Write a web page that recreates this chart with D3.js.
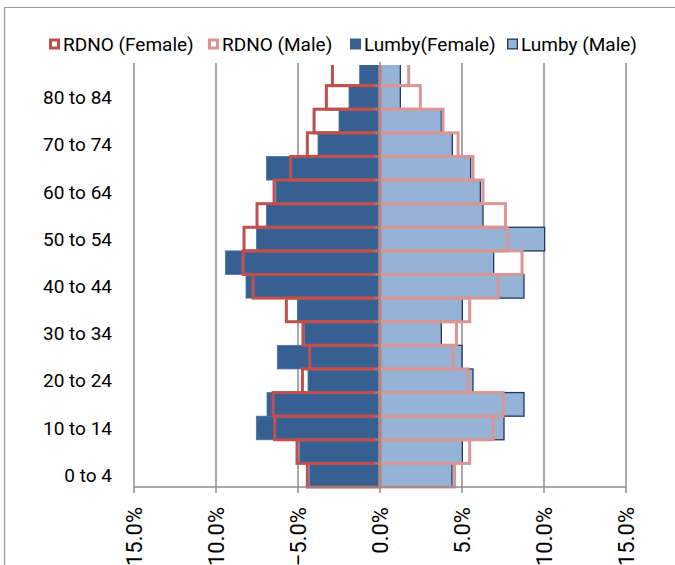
<!DOCTYPE html>
<html>
<head>
<meta charset="utf-8">
<script src="https://cdn.jsdelivr.net/npm/d3@7"></script>
<style>
  body { margin: 0; background: #fff; }
  svg text { font-family: Roboto, "Liberation Sans", sans-serif; fill: #000; }
</style>
</head>
<body>
<svg id="chart"></svg>
<script>
const width = 675;
const height = 565;

// Age groups, bottom to top
const ageGroups = ["0 to 4", "5 to 9", "10 to 14", "15 to 19", "20 to 24", "25 to 29",
    "30 to 34", "35 to 39", "40 to 44", "45 to 49", "50 to 54", "55 to 59",
    "60 to 64", "65 to 69", "70 to 74", "75 to 79", "80 to 84", "85+"];

// Percent of population
const lumbyFemale = [4.29, 4.90, 7.54, 6.89, 4.39, 6.26, 4.60, 5.04, 8.17, 9.43, 7.54, 6.93, 6.35, 6.93, 3.78, 2.50, 1.89, 1.24];
const lumbyMale   = [4.39, 5.02, 7.56, 8.78, 5.67, 5.00, 3.74, 5.02, 8.78, 6.93, 10.04, 6.28, 6.12, 5.53, 4.41, 3.74, 1.24, 1.24];
const rdnoFemale  = [4.43, 5.06, 6.42, 6.52, 4.73, 4.29, 4.70, 5.71, 7.74, 8.35, 8.29, 7.50, 6.46, 5.45, 4.43, 4.02, 3.27, 2.90];
const rdnoMale    = [4.55, 5.47, 6.89, 7.50, 5.37, 4.45, 4.66, 5.47, 7.20, 8.66, 7.77, 7.65, 6.28, 5.67, 4.76, 3.84, 2.46, 1.75];

const xTicks = [-15, -10, -5, 0, 5, 10, 15];

const legendItems = [
    { name: "RDNO (Female)", fill: "#fff", stroke: "#C0504D", sw: 3 },
    { name: "RDNO (Male)", fill: "#fff", stroke: "#D99694", sw: 3 },
    { name: "Lumby(Female)", fill: "#376092", stroke: "#376092", sw: 1 },
    { name: "Lumby (Male)", fill: "#95B3D7", stroke: "#1F3864", sw: 1.3 }
];

const svg = d3.select("#chart")
    .attr("width", width)
    .attr("height", height);

// chart border (only left and top visible)
svg.append("path")
    .attr("d", "M4.5,565 L4.5,7.5 L675,7.5")
    .attr("fill", "none")
    .attr("stroke", "#999")
    .attr("stroke-width", 1.2);

const x = d3.scaleLinear().domain([-15, 15]).range([134, 626]);
const y = d3.scaleBand().domain(ageGroups).range([487, 62]).padding(0);

svg.append("clipPath").attr("id", "plotclip")
    .append("rect").attr("x", 0).attr("y", 65).attr("width", width).attr("height", 430);

// vertical gridlines
svg.append("g").selectAll("line")
    .data(xTicks.filter(d => d !== 0))
    .join("line")
    .attr("x1", d => x(d)).attr("x2", d => x(d))
    .attr("y1", 63).attr("y2", 487)
    .attr("stroke", "#8c8c8c")
    .attr("stroke-width", 1.5);

const bars = svg.append("g").attr("clip-path", "url(#plotclip)");

// Lumby filled bars
bars.selectAll(".lf").data(lumbyFemale).join("rect")
    .attr("x", d => x(-d)).attr("width", d => x(0) - x(-d))
    .attr("y", (d, i) => y(ageGroups[i])).attr("height", y.bandwidth())
    .attr("fill", "#376092").attr("stroke", "#4d74a3").attr("stroke-width", 0.8);

bars.selectAll(".lm").data(lumbyMale).join("rect")
    .attr("x", x(0)).attr("width", d => x(d) - x(0))
    .attr("y", (d, i) => y(ageGroups[i])).attr("height", y.bandwidth())
    .attr("fill", "#95B3D7").attr("stroke", "#1F3864").attr("stroke-width", 1.3);

// RDNO outlined bars
bars.selectAll(".rf").data(rdnoFemale).join("rect")
    .attr("x", d => x(-d)).attr("width", d => x(0) - x(-d))
    .attr("y", (d, i) => y(ageGroups[i])).attr("height", y.bandwidth())
    .attr("fill", "none").attr("stroke", "#C0504D").attr("stroke-width", 3);

bars.selectAll(".rm").data(rdnoMale).join("rect")
    .attr("x", x(0)).attr("width", d => x(d) - x(0))
    .attr("y", (d, i) => y(ageGroups[i])).attr("height", y.bandwidth())
    .attr("fill", "none").attr("stroke", "#D99694").attr("stroke-width", 3);

// centre category axis
const yAxis = svg.append("g").attr("transform", `translate(${x(0)},0)`);
yAxis.append("line")
    .attr("y1", 62).attr("y2", 487)
    .attr("stroke", "#8c8c8c").attr("stroke-width", 1.5);
yAxis.selectAll(".tick").data(ageGroups.slice(1))
    .join("line")
    .attr("x1", -5).attr("x2", 0)
    .attr("y1", d => y(d) + y.bandwidth()).attr("y2", d => y(d) + y.bandwidth())
    .attr("stroke", "#8c8c8c").attr("stroke-width", 1.5);

// category labels on the left (every other)
svg.append("g").selectAll("text")
    .data(ageGroups.filter((d, i) => i % 2 === 0))
    .join("text")
    .attr("x", 112)
    .attr("y", d => y(d) + y.bandwidth() / 2)
    .attr("dy", "0.35em")
    .attr("text-anchor", "end")
    .style("font-size", "19px")
    .text(d => d);

// bottom value axis
const xAxis = svg.append("g").attr("transform", "translate(0,487)");
xAxis.append("line")
    .attr("x1", x(-15)).attr("x2", x(15))
    .attr("stroke", "#8c8c8c").attr("stroke-width", 1.5);
xAxis.selectAll("line.tk").data(xTicks)
    .join("line").attr("class", "tk")
    .attr("x1", d => x(d)).attr("x2", d => x(d))
    .attr("y1", 0).attr("y2", 6)
    .attr("stroke", "#8c8c8c").attr("stroke-width", 1.5);
xAxis.selectAll("text").data(xTicks)
    .join("text")
    .attr("transform", d => `translate(${x(d)},20) rotate(-90)`)
    .attr("text-anchor", "end")
    .attr("dy", "0.35em")
    .style("font-size", "22px")
    .text(d => d3.format(".1f")(d) + "%");

// legend
const legend = svg.append("g").attr("transform", "translate(0,44)");
const legendX = [49, 208, 350, 507];
legendItems.forEach((item, i) => {
    const g = legend.append("g").attr("transform", `translate(${legendX[i]},0)`);
    const inset = item.sw / 2;
    g.append("rect")
        .attr("x", inset).attr("y", -5.5 + inset)
        .attr("width", 11 - item.sw).attr("height", 11 - item.sw)
        .attr("fill", item.fill)
        .attr("stroke", item.stroke)
        .attr("stroke-width", item.sw);
    g.append("text")
        .attr("x", 14)
        .attr("dy", "0.35em")
        .style("font-size", "19px")
        .text(item.name);
});
</script>
</body>
</html>
